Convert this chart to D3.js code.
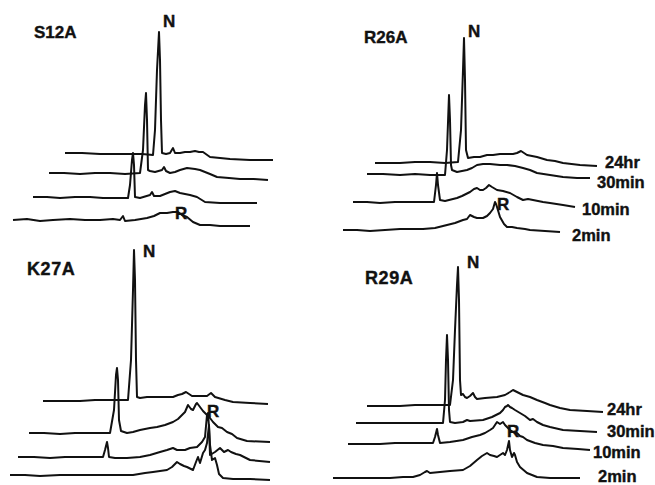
<!DOCTYPE html>
<html>
<head>
<meta charset="utf-8">
<script src="https://cdn.jsdelivr.net/npm/d3@7"></script>
<style>
  body { margin: 0; background: #fff; }
  text { font-family: "Liberation Sans", Arial, sans-serif; font-weight: bold; fill: #111; stroke: #111; stroke-width: 0.4; }
</style>
</head>
<body>
<svg id="chart" width="655" height="485"></svg>
<script>
const width = 655, height = 485;

const panels = ['S12A', 'R26A', 'K27A', 'R29A'];
const times = ['2min', '10min', '30min', '24hr'];
const peakLabels = ['N', 'R'];

// each trace: [retention, absorbance], measured from the trace's own start
const s12a_2min = [[0,0],[14,1],[27,-1],[40,0],[57,1],[72,0],[87,0],[100,1],[107,0],[110,4],[112,-1],[122,0],[134,2],[141,4],[147,7],[154,7],[160,8],[165,8],[169,5],[174,3],[180,-2],[187,-5],[197,-5],[207,-6],[222,-6],[237,-6]];
const s12a_10min = [[0,0],[14,0],[27,-1],[42,0],[57,0],[70,-1],[82,-1],[95,-1],[97,12],[99,37],[100,44],[101,32],[102,0],[107,-1],[117,2],[119,5],[121,1],[127,1],[132,3],[137,5],[142,6],[147,4],[157,2],[164,0],[172,-5],[187,-6],[205,-6],[224,-6]];
const s12a_30min = [[0,0],[15,0],[31,-1],[46,0],[61,0],[76,-1],[91,0],[94,23],[96,68],[97,80],[98,53],[99,3],[101,2],[106,1],[113,3],[115,6],[117,2],[121,0],[126,1],[131,3],[138,5],[146,4],[151,3],[161,-1],[168,-4],[180,-5],[191,-6],[205,-6],[219,-7]];
const s12a_24hr = [[0,0],[17,0],[35,-1],[50,-1],[65,-1],[77,-1],[88,-2],[90,23],[92,83],[94,121],[95,93],[96,33],[97,0],[101,-1],[105,0],[108,5],[110,0],[115,0],[120,1],[125,1],[130,2],[134,1],[138,1],[145,-4],[155,-5],[165,-6],[185,-7],[208,-7]];

const r26a_2min = [[0,0],[14,0],[27,-1],[42,0],[57,1],[70,1],[80,1],[92,2],[104,5],[112,7],[120,10],[124,11],[127,15],[131,13],[134,12],[140,12],[144,14],[147,17],[150,21],[152,28],[153,26],[154,23],[157,13],[161,6],[164,3],[169,3],[174,2],[182,1],[187,0],[202,-1],[217,-2]];
const r26a_10min = [[0,0],[14,0],[27,-1],[42,0],[57,0],[70,0],[81,0],[83,17],[84,29],[85,17],[87,2],[92,1],[100,3],[104,4],[109,6],[117,10],[121,13],[124,14],[127,12],[130,12],[133,14],[136,17],[139,15],[144,12],[150,11],[157,9],[164,5],[170,2],[175,3],[180,2],[185,1],[190,0],[197,-1],[210,-3],[222,-5]];
const r26a_30min = [[0,0],[16,0],[33,-1],[48,0],[63,-1],[78,-1],[80,24],[82,79],[83,54],[84,9],[85,4],[90,2],[95,3],[100,4],[105,6],[110,9],[116,10],[123,10],[133,9],[140,9],[148,8],[156,6],[163,4],[170,1],[183,-1],[196,-3],[210,-4],[223,-4]];
const r26a_24hr = [[0,0],[12,0],[25,0],[40,1],[55,1],[70,0],[83,1],[86,33],[88,93],[89,125],[90,83],[91,13],[93,5],[99,6],[105,6],[112,8],[118,8],[125,9],[133,9],[138,9],[142,10],[146,12],[149,10],[152,8],[162,6],[172,3],[180,2],[188,0],[205,-2],[222,-3]];

const k27a_2min = [[0,0],[15,0],[30,-1],[50,0],[70,0],[90,0],[107,0],[123,0],[135,2],[143,3],[150,4],[157,5],[162,8],[165,11],[167,13],[170,11],[174,9],[177,8],[183,5],[186,13],[188,18],[190,12],[193,22],[195,25],[197,32],[199,50],[200,30],[202,15],[205,17],[207,10],[209,1],[213,-3],[223,-4],[240,-4],[260,-5]];
const k27a_10min = [[0,0],[16,0],[32,-1],[47,0],[62,0],[75,0],[85,0],[87,7],[89,15],[90,9],[91,0],[97,-1],[109,-1],[122,0],[132,2],[142,5],[149,7],[155,9],[159,7],[162,7],[167,7],[172,9],[179,10],[184,15],[187,20],[189,42],[190,44],[191,30],[192,2],[197,5],[202,9],[206,5],[210,7],[213,5],[218,3],[222,2],[232,-3],[252,-5]];
const k27a_30min = [[0,0],[15,0],[31,-1],[46,0],[61,0],[72,0],[81,0],[85,23],[87,58],[88,65],[89,53],[90,13],[92,2],[98,0],[104,1],[111,3],[121,5],[128,6],[136,8],[144,11],[149,14],[153,18],[156,21],[159,28],[162,24],[164,23],[167,29],[168,30],[171,26],[174,22],[176,20],[181,15],[184,11],[189,6],[193,5],[198,1],[203,-1],[208,-5],[218,-8],[241,-9]];
const k27a_24hr = [[0,0],[18,0],[37,0],[52,1],[67,1],[77,1],[85,1],[88,41],[90,111],[91,151],[92,121],[93,41],[94,4],[97,3],[104,4],[117,4],[130,4],[135,6],[139,7],[143,9],[146,7],[149,5],[157,5],[164,5],[168,8],[172,4],[182,1],[190,-1],[207,-2],[225,-3]];

const r29a_2min = [[0,0],[14,0],[27,0],[42,0],[57,0],[70,1],[80,1],[87,3],[92,6],[94,7],[97,5],[107,6],[117,7],[130,8],[137,12],[144,18],[149,22],[154,25],[157,23],[161,22],[164,21],[167,23],[170,25],[172,23],[174,28],[176,37],[177,28],[179,21],[181,25],[182,23],[184,16],[187,11],[194,5],[204,1],[217,0],[227,0],[247,0]];
const r29a_10min = [[0,0],[16,0],[32,0],[47,1],[62,1],[75,1],[85,1],[87,7],[89,15],[90,9],[92,1],[102,2],[115,4],[124,7],[132,9],[137,11],[142,14],[145,16],[147,19],[149,22],[152,20],[155,22],[157,19],[160,16],[162,14],[165,12],[169,11],[172,8],[175,7],[179,4],[187,1],[195,-1],[205,-2],[215,-4],[230,-5],[242,-6]];
const r29a_30min = [[0,0],[17,0],[34,0],[50,0],[64,0],[76,0],[87,0],[89,23],[90,63],[91,88],[92,63],[93,13],[94,1],[99,0],[107,1],[111,3],[114,2],[127,3],[136,6],[144,10],[147,13],[149,16],[151,17],[152,18],[154,16],[156,15],[159,13],[164,10],[169,7],[174,3],[177,4],[181,1],[187,-2],[194,-4],[207,-7],[224,-8],[241,-9]];
const r29a_24hr = [[0,0],[16,0],[33,0],[48,1],[63,1],[75,1],[83,1],[86,26],[88,76],[90,121],[91,139],[92,106],[93,26],[94,11],[96,12],[98,9],[100,8],[103,10],[106,13],[108,9],[110,7],[118,8],[130,9],[138,11],[143,14],[146,16],[150,14],[156,11],[163,9],[170,6],[178,3],[183,1],[193,-2],[203,-4],[220,-5],[236,-6]];

// stacking offsets [retention, absorbance] of 2min, 10min, 30min, 24hr
const s12a_offsets = [[0,0],[20,23],[36,47],[52,67]];
const r26a_offsets = [[0,0],[10,28],[24,56],[32,67]];
const k27a_offsets = [[0,0],[8,18],[19,42],[33,74]];
const r29a_offsets = [[0,0],[15,34],[23,55],[34,72]];

const traces = [
  [s12a_2min, s12a_10min, s12a_30min, s12a_24hr],
  [r26a_2min, r26a_10min, r26a_30min, r26a_24hr],
  [k27a_2min, k27a_10min, k27a_30min, k27a_24hr],
  [r29a_2min, r29a_10min, r29a_30min, r29a_24hr]
];
const offsets = [s12a_offsets, r26a_offsets, k27a_offsets, r29a_offsets];

// page layout
const layout = [
  {origin: [13, 220], title: [34, 38, 17], n: [163, 27], r: [175, 219], timeLabels: false},
  {origin: [343, 230], title: [364, 43, 17], n: [468, 37], r: [497, 210], timeLabels: true,
   timePos: [[572, 241], [582, 215], [597, 188], [605, 168]]},
  {origin: [10, 475], title: [27, 275, 18], n: [143, 257], r: [207, 417], timeLabels: false},
  {origin: [333, 478], title: [365, 284, 18], n: [467, 268], r: [507, 437], timeLabels: true,
   timePos: [[598, 482], [593, 458], [607, 437], [607, 415]]}
];

const svg = d3.select('#chart');

panels.forEach((name, p) => {
  const L = layout[p];
  const x = d3.scaleLinear().domain([0, 270]).range([L.origin[0], L.origin[0] + 270]);
  const y = d3.scaleLinear().domain([0, 230]).range([L.origin[1], L.origin[1] - 230]);

  const g = svg.append('g').attr('class', 'panel');

  g.selectAll('.trace')
    .data(traces[p])
    .join('path')
      .attr('class', 'trace')
      .attr('fill', 'none')
      .attr('stroke', '#111')
      .attr('stroke-width', 2)
      .attr('stroke-linejoin', 'round')
      .attr('d', (d, i) => d3.line()
        .x(e => x(e[0] + offsets[p][i][0]))
        .y(e => y(e[1] + offsets[p][i][1]))(d));

  g.append('text')
    .attr('x', L.title[0]).attr('y', L.title[1])
    .attr('font-size', L.title[2])
    .attr('letter-spacing', L.title[2] > 17 ? 0.6 : 0)
    .text(name);

  g.append('text').attr('x', L.n[0]).attr('y', L.n[1]).attr('font-size', 17).text(peakLabels[0]);
  g.append('text').attr('x', L.r[0]).attr('y', L.r[1]).attr('font-size', 17).text(peakLabels[1]);

  if (L.timeLabels) {
    g.selectAll('.time')
      .data(times)
      .join('text')
        .attr('class', 'time')
        .attr('x', (d, i) => L.timePos[i][0])
        .attr('y', (d, i) => L.timePos[i][1])
        .attr('font-size', 16.5)
        .text(d => d);
  }
});
</script>
</body>
</html>
